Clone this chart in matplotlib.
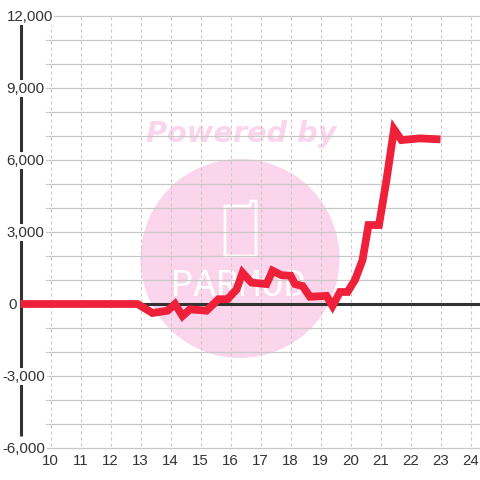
#!/usr/bin/env python3
"""Line chart on a pink watermark, drawn on an axes that fills the whole figure."""

import matplotlib

matplotlib.use("Agg")
import matplotlib.pyplot as plt
from matplotlib.patches import Ellipse

X_VALUES = [9.0, 12.9, 13.4, 13.9, 14.15, 14.4, 14.65, 15.2, 15.6, 15.9, 16.2, 16.4,
            16.7, 17.2, 17.4, 17.7, 18.0, 18.15, 18.4, 18.65, 19.2, 19.4, 19.65, 19.9,
            20.15, 20.4, 20.6, 20.95, 21.2, 21.45, 21.7, 22.3, 23.0]
Y_VALUES = [0, 0, -375, -280, 0, -500, -220, -280, 200, 200, 600, 1300,
            890, 830, 1390, 1200, 1180, 830, 750, 300, 340, -80, 500, 500,
            1000, 1830, 3290, 3290, 5170, 7280, 6830, 6900, 6860]
X_TICKS = list(range(10, 25))
Y_GRID = list(range(-6000, 13000, 1000))
Y_LABELS = [12000, 9000, 6000, 3000, 0, -3000, -6000]

INK = "#333333"
GRID = "#c8c8c8"
PINK = "#fbd5ec"
RED = "#ef2039"

plt.rcParams["font.family"] = ["Liberation Sans", "DejaVu Sans"]


def px_x(px):
    return 10 + (px - 50.5) / 30


def px_y(py):
    return (304 - py) / 0.024


fig = plt.figure(figsize=(4.8, 4.8), dpi=100)
ax = fig.add_axes([0, 0, 1, 1])
ax.set_xlim(px_x(0), px_x(480))
ax.set_ylim(px_y(480), px_y(0))
ax.axis("off")

# watermark
ax.add_patch(Ellipse((px_x(240), px_y(258.5)), 199 / 30, 199 / 0.024, color=PINK, lw=0, zorder=1))
ax.text(px_x(241.5), px_y(134), "Powered by", color=PINK, fontsize=20.7, fontweight="bold",
        fontstyle="oblique", family="DejaVu Sans", ha="center", va="center", zorder=1)
phone_x = [225, 225, 250, 251, 256, 256, 225]
phone_y = [256, 206, 206, 201, 201, 256, 256]
ax.plot([px_x(p) for p in phone_x], [px_y(p) for p in phone_y], color="white", lw=2,
        solid_joinstyle="round", zorder=1)
ax.text(px_x(239), px_y(286), "PARMOD", color="white", fontsize=27, ha="center", va="center",
        family="Liberation Mono", zorder=1)

# grid
for v in Y_GRID:
    if -6000 <= v <= 12000:
        ax.plot([px_x(46), px_x(480)], [v, v], color=GRID, lw=0.9, zorder=2)
for t in X_TICKS:
    ax.plot([t, t], [px_y(446), px_y(16)], color=GRID, lw=0.8, ls=(0, (2.7, 2.7)), zorder=2)

# axes lines
ax.plot([px_x(20.5), px_x(20.5)], [px_y(436), px_y(24)], color=INK, lw=2.2, zorder=3, solid_capstyle="butt")
ax.plot([px_x(20.5), px_x(480)], [0, 0], color=INK, lw=2.2, zorder=3, solid_capstyle="butt")

ax.plot(X_VALUES, Y_VALUES, color=RED, lw=5.6, zorder=4, solid_joinstyle="miter", solid_capstyle="butt")

for v in Y_LABELS:
    y = v - 30
    if v == 0:
        ax.text(px_x(8), y, "0", color=INK, fontsize=10.8, ha="left", va="center", zorder=5)
        continue
    left = 6.5 if v > 0 else 2.5
    ax.text(px_x(left), y, f"{v:,}", color=INK, fontsize=10.8, ha="left", va="center", zorder=5,
            bbox=dict(fc="white", ec="none", pad=1.0))
for t in X_TICKS:
    ax.text(t, px_y(461), str(t), color=INK, fontsize=10.8, ha="center", va="center", zorder=5)

fig.savefig("out.png", dpi=100)
